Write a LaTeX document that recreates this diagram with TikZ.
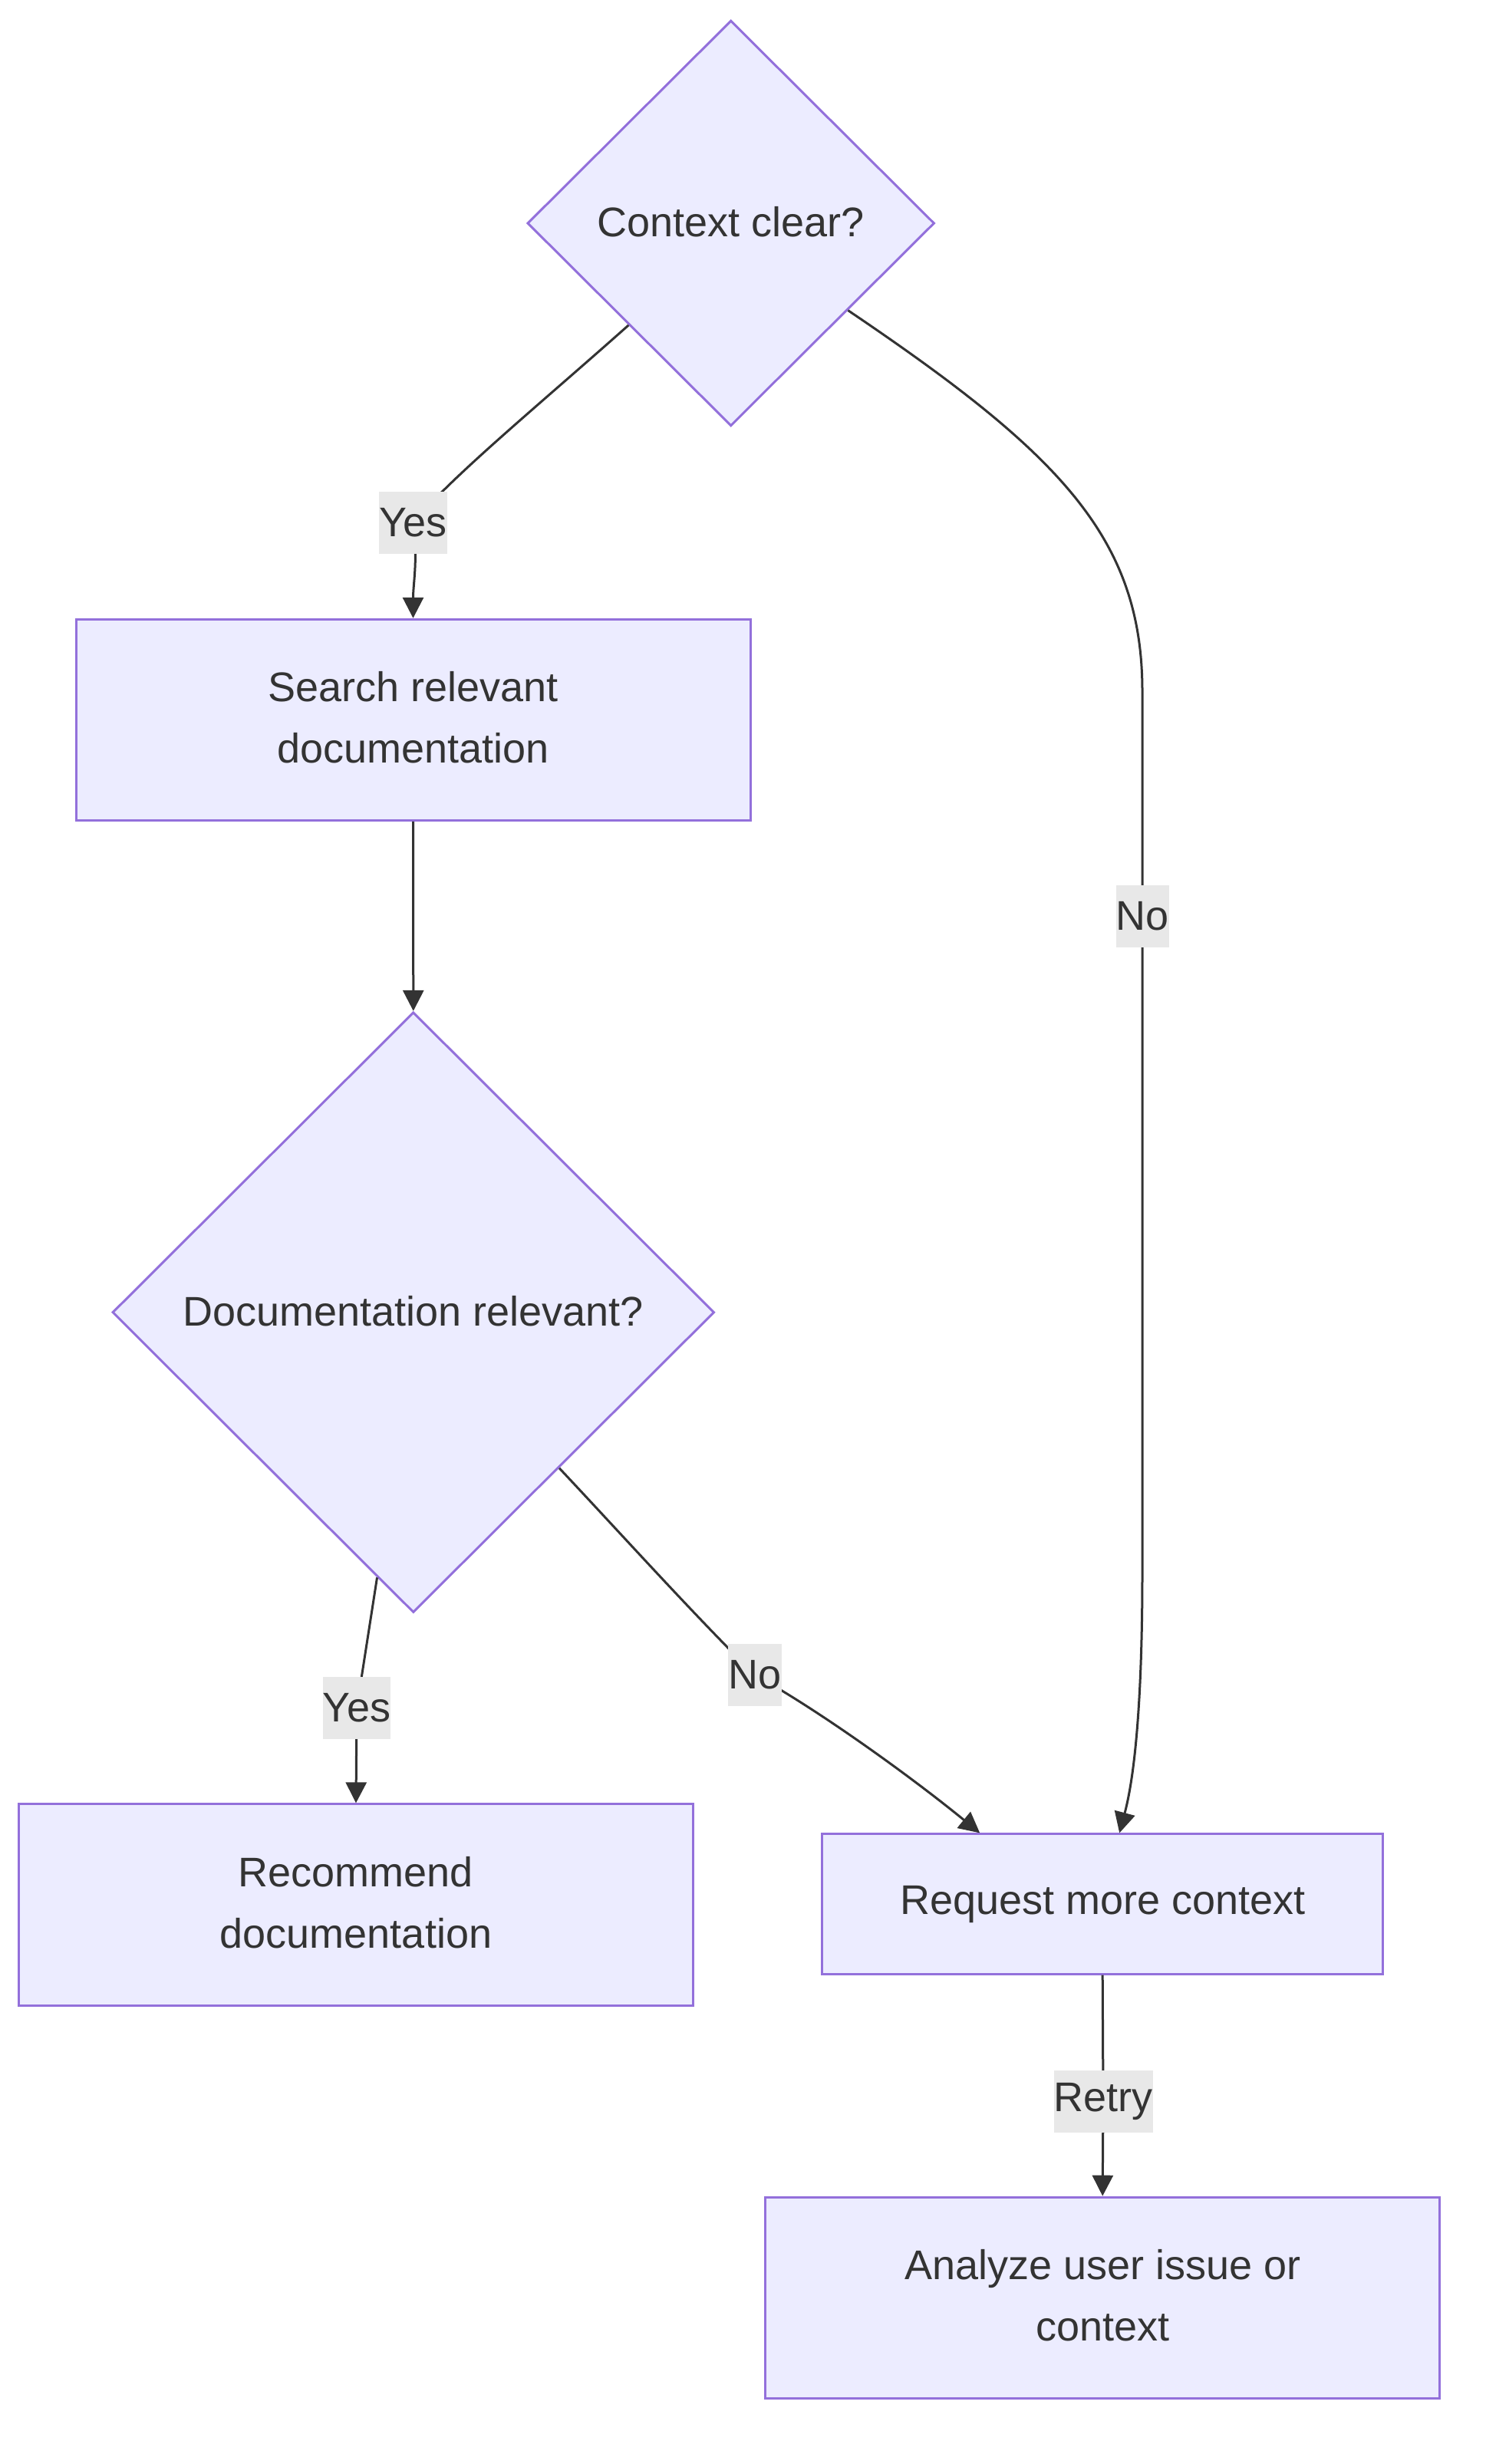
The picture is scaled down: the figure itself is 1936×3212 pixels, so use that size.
\documentclass[tikz,border=0pt]{standalone}
\usepackage{fontspec}
\setmainfont{Liberation Sans}
\usetikzlibrary{shapes.geometric,arrows.meta,calc}
\definecolor{nodefill}{HTML}{ECECFF}
\definecolor{nodeline}{HTML}{9370DB}
\definecolor{txt}{HTML}{333333}
\definecolor{lblbg}{HTML}{E8E8E8}
\tikzset{
  base/.style={draw=nodeline, fill=nodefill, line width=3pt, text=txt, align=center,
    font=\fontsize{54}{80}\selectfont, inner sep=0pt},
  proc/.style={base, rectangle},
  decision/.style={base, diamond, aspect=1},
  lbl/.style={fill=lblbg, text=txt, font=\fontsize{54}{64}\selectfont, inner sep=0pt,
    minimum height=81pt},
  conn/.style={draw=txt, line width=3pt, -{Triangle[length=27pt,width=27pt]}},
}
\begin{document}
\begin{tikzpicture}[x=1pt,y=-1pt]
\useasboundingbox (0,0) rectangle (1936,3212);
% nodes
\node[decision, minimum width=530.6pt, minimum height=528.6pt] (d1) at (952.7,291) {\raisebox{4pt}{Context clear?}};
\node[proc, minimum width=879pt, minimum height=262pt] (b1) at (538.5,938.3) {\raisebox{4pt}{\begin{tabular}{@{}c@{}}Search relevant\\documentation\end{tabular}}};
\node[decision, minimum width=784.6pt, minimum height=782.6pt] (d2) at (538.8,1710.7) {\raisebox{4pt}{Documentation relevant?}};
\node[proc, minimum width=879pt, minimum height=262.3pt] (rec) at (464,2483) {\raisebox{4pt}{\begin{tabular}{@{}c@{}}Recommend\\documentation\end{tabular}}};
\node[proc, minimum width=731.4pt, minimum height=182.3pt] (req) at (1437.2,2482) {\raisebox{4pt}{Request more context}};
\node[proc, minimum width=879pt, minimum height=262.3pt] (ana) at (1437.2,2995.3) {\raisebox{4pt}{\begin{tabular}{@{}c@{}}Analyze user issue or\\context\end{tabular}}};
% label anchors
\coordinate (lyes1c) at (538.5,681.5);
\coordinate (lno1c) at (1489,1194.5);
\coordinate (lyes2c) at (465,2226.5);
\coordinate (lno2c) at (984,2183.5);
\coordinate (lretc) at (1438,2739.5);
% connectors
\draw[conn] (d1.south west) .. controls (700,530) and (590,620) .. (lyes1c)
  .. controls (545,730) and (538.5,760) .. (b1.north);
\draw[conn] ($(d1.east)!0.4275!(d1.south)$) .. controls (1380,590) and (1489,700) .. (1489,901)
  -- (lno1c) -- (1489,2050) .. controls (1489,2250) and (1475,2330) .. ($(req.north)+(22,0)$);
\draw[conn] (b1.south) -- (d2.north);
\draw[conn] ($(d2.south)!0.12!(d2.west)$) -- (lyes2c) -- (rec.north);
\draw[conn] ($(d2.south)!0.483!(d2.east)$) .. controls (810,2000) and (900,2100) .. (lno2c)
  .. controls (1060,2225) and (1180,2310) .. ($(req.north)+(-160,0)$);
\draw[conn] (req.south) -- (lretc) -- (ana.north);
% edge labels
\node[lbl, minimum width=89pt] (lyes1) at (lyes1c) {Yes};
\node[lbl, minimum width=68pt] (lno1) at (lno1c) {No};
\node[lbl, minimum width=88pt] (lyes2) at (lyes2c) {Yes};
\node[lbl, minimum width=68pt] (lno2) at (lno2c) {No};
\node[lbl, minimum width=128pt] (lret) at (lretc) {Retry};
\end{tikzpicture}
\end{document}
